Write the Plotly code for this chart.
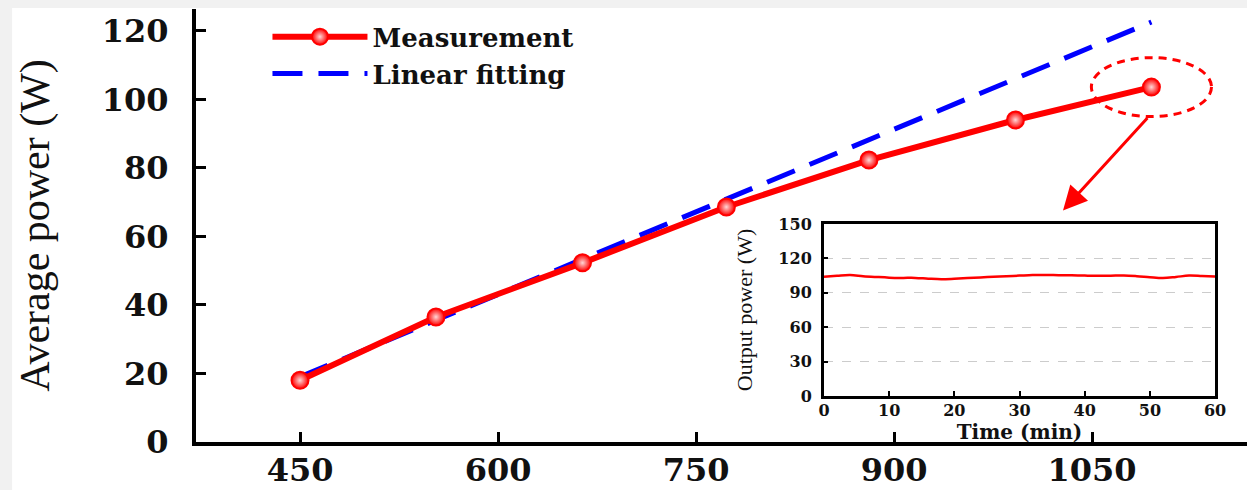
import plotly.graph_objects as go

# ---- data ----
pump_power = [450, 553, 664, 773, 881, 992, 1095]
avg_power = [18.0, 36.5, 52.3, 68.6, 82.3, 94.0, 103.6]

fit_x = [450, 1095]
fit_y = [19.0, 122.6]

time_min = [0, 2, 4, 6, 8, 10, 12, 14, 16, 18, 20, 22, 24, 26, 28, 30,
            32, 34, 36, 38, 40, 42, 44, 46, 48, 50, 52, 54, 56, 58, 60]
out_power = [104.0, 104.8, 105.5, 104.5, 103.8, 103.2, 103.0, 103.0, 102.3, 101.8,
             102.2, 102.8, 103.4, 104.0, 104.5, 105.0, 105.5, 105.6, 105.4, 105.3,
             105.0, 104.8, 104.9, 105.1, 104.5, 103.6, 102.9, 103.8, 105.0, 104.6, 104.1]

x_ticks = [450, 600, 750, 900, 1050]
y_ticks = [0, 20, 40, 60, 80, 100, 120]
inset_x_ticks = [0, 10, 20, 30, 40, 50, 60]
inset_y_ticks = [0, 30, 60, 90, 120, 150]

RED = "#ff0000"
BLUE = "#0000ff"
BOLD_SERIF = "DejaVu Serif"
SERIF = "Liberation Serif"

fig = go.Figure()

fig.add_trace(go.Scatter(
    x=fit_x, y=fit_y, mode="lines", name="Linear fitting",
    line=dict(color=BLUE, width=5, dash="30px,16px"), legendrank=2,
))
fig.add_trace(go.Scatter(
    x=pump_power, y=avg_power, mode="lines+markers", name="Measurement",
    line=dict(color=RED, width=6),
    marker=dict(symbol="circle", size=17, color=RED,
                gradient=dict(type="radial", color="#ffd6d6"),
                line=dict(color=RED, width=2)),
    legendrank=1,
))
fig.add_trace(go.Scatter(
    x=time_min, y=out_power, mode="lines", showlegend=False,
    line=dict(color=RED, width=2.5, shape="spline"),
    xaxis="x2", yaxis="y2",
))

# highlight ellipse around last point and arrow to inset
cx, cy = pump_power[-1], avg_power[-1]
rx, ry = 45.5, 8.6
fig.add_shape(type="circle", xref="x", yref="y",
              x0=cx - rx, x1=cx + rx, y0=cy - ry, y1=cy + ry,
              line=dict(color=RED, width=3, dash="8px,6px"))
fig.add_annotation(x=cx - 67, y=cy - 36, ax=cx - 2, ay=cy - ry,
                   xref="x", yref="y", axref="x", ayref="y",
                   text="", showarrow=True, arrowhead=2, arrowsize=1.6,
                   arrowwidth=3, arrowcolor=RED)

# light gray border strips like the reference
fig.add_shape(type="rect", xref="paper", yref="paper", layer="below",
              x0=-0.19, x1=1.0, y0=1.0023, y1=1.03,
              fillcolor="#f1f1f1", line=dict(width=0))
fig.add_shape(type="rect", xref="paper", yref="paper", layer="below",
              x0=-0.19, x1=-0.175, y0=-0.2, y1=1.03,
              fillcolor="#f1f1f1", line=dict(width=0))

fig.update_layout(
    width=1247, height=490,
    margin=dict(l=196, r=0, t=9, b=48, autoexpand=False),
    paper_bgcolor="white", plot_bgcolor="white",
    showlegend=True,
    legend=dict(x=0.068, y=0.99, xanchor="left", yanchor="top",
                bgcolor="rgba(0,0,0,0)", itemwidth=95,
                font=dict(family=BOLD_SERIF, size=26, color="#111111", weight="bold"),
                tracegroupgap=0),
    xaxis=dict(
        range=[371.2, 1167.4], tickvals=x_ticks, ticks="inside", ticklen=10,
        tickwidth=3, tickcolor="black", showline=True, linewidth=4, linecolor="black",
        showgrid=False, zeroline=False, ticklabelstandoff=-3, automargin=False,
        tickfont=dict(family=BOLD_SERIF, size=32, color="#111111", weight="bold"),
    ),
    yaxis=dict(
        range=[0, 126.4], tickvals=y_ticks, ticks="inside", ticklen=10,
        tickwidth=3, tickcolor="black", showline=True, linewidth=4, linecolor="black",
        showgrid=False, zeroline=False, ticklabelstandoff=17, automargin=False,
        tickfont=dict(family=BOLD_SERIF, size=32, color="#111111", weight="bold"),
        title=dict(text="Average power (W)", standoff=40,
                   font=dict(family=SERIF, size=42, color="#111111")),
    ),
    xaxis2=dict(
        domain=[0.5975, 0.9696], anchor="y2", range=[0, 60], tickvals=inset_x_ticks,
        ticks="inside", ticklen=5, tickwidth=2, tickcolor="black",
        showline=True, mirror=True, linewidth=3, linecolor="black",
        showgrid=False, zeroline=False, ticklabelstandoff=-2, automargin=False,
        tickfont=dict(family=BOLD_SERIF, size=16, color="#111111", weight="bold"),
        title=dict(text="Time (min)", standoff=0,
                   font=dict(family=BOLD_SERIF, size=20, color="#111111", weight="bold")),
    ),
    yaxis2=dict(
        domain=[0.1062, 0.5035], anchor="x2", range=[0, 150], tickvals=inset_y_ticks,
        ticks="inside", ticklen=4, tickwidth=2, tickcolor="black",
        showline=True, mirror=True, linewidth=3, linecolor="black",
        showgrid=True, gridcolor="#cccccc", griddash="dash", gridwidth=1,
        zeroline=False, ticklabelstandoff=6, automargin=False,
        tickfont=dict(family=BOLD_SERIF, size=16, color="#111111", weight="bold"),
        title=dict(text="Output power (W)", standoff=20,
                   font=dict(family=SERIF, size=22, color="#111111")),
    ),
)

fig.write_html(
    "out.html",
    config={"displayModeBar": False},
    post_script=("document.documentElement.style.margin='0';"
                 "document.body.style.margin='0';"
                 "document.documentElement.style.background='white';"
                 "document.documentElement.style.overflow='hidden';"
                 "document.body.style.overflow='hidden';"),
)
